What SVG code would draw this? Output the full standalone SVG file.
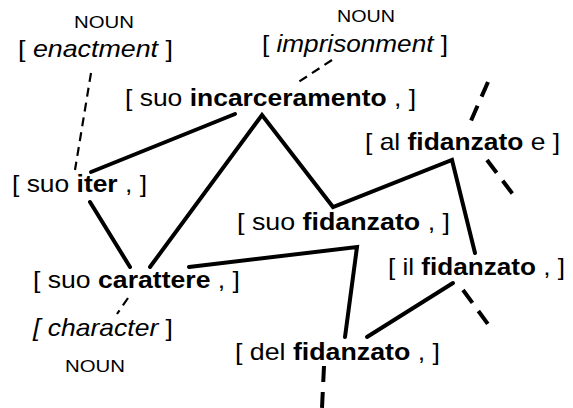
<svg xmlns="http://www.w3.org/2000/svg" width="573" height="408" viewBox="0 0 573 408">
<style>
text{font-family:"Liberation Sans",Arial,Helvetica,sans-serif;fill:#000}
.t{font-size:24px}
.g{font-size:24px}
.n{font-size:17px}
.b{font-weight:bold}
.i{font-style:italic}
.s{stroke:#000;stroke-width:4;fill:none;stroke-linecap:round;stroke-linejoin:miter}
.d{stroke:#000;stroke-width:4;fill:none;stroke-dasharray:16 10}
.dt{stroke:#000;stroke-width:2.2;fill:none;stroke-dasharray:9 6}
</style>
<rect width="573" height="408" fill="#fff"/>
<g id="connectors">
<line class="s" x1="91" y1="172" x2="235" y2="114"/>
<polyline class="s" points="150,267 262,115 333,207 452,160 475,253"/>
<line class="s" x1="90" y1="202" x2="130" y2="267"/>
<polyline class="s" points="189,267 357,247 345,337"/>
<line class="s" x1="453" y1="283" x2="367" y2="337"/>
<line class="d" x1="463" y1="290" x2="493" y2="331"/>
<line class="d" x1="488" y1="82" x2="470" y2="123"/>
<line class="d" x1="487" y1="160" x2="518" y2="201"/>
<line class="d" x1="324" y1="366" x2="322" y2="408"/>
<line class="dt" x1="91" y1="73" x2="75" y2="170"/>
<line class="dt" x1="332" y1="60" x2="297" y2="83"/>
<line class="dt" x1="128" y1="298" x2="117" y2="314" stroke-dasharray="3 5 10 20"/>
</g>
<g id="gloss-enactment">
<text class="n" x="74" y="28" textLength="60" lengthAdjust="spacingAndGlyphs">NOUN</text>
<text class="g" x="18" y="57" textLength="155" lengthAdjust="spacingAndGlyphs">[ <tspan class="i">enactment</tspan> ]</text>
</g>
<g id="gloss-imprisonment">
<text class="n" x="337" y="22" textLength="58" lengthAdjust="spacingAndGlyphs">NOUN</text>
<text class="g" x="262" y="52" textLength="186" lengthAdjust="spacingAndGlyphs">[ <tspan class="i">imprisonment</tspan> ]</text>
</g>
<g id="node-incarceramento">
<text class="t" x="125" y="106" textLength="291" lengthAdjust="spacingAndGlyphs">[ suo <tspan class="b">incarceramento</tspan> , ]</text>
</g>
<g id="node-al-fidanzato">
<text class="t" x="365" y="150" textLength="195" lengthAdjust="spacingAndGlyphs">[ al <tspan class="b">fidanzato</tspan> e ]</text>
</g>
<g id="node-iter">
<text class="t" x="12" y="192" textLength="135" lengthAdjust="spacingAndGlyphs">[ suo <tspan class="b">iter</tspan> , ]</text>
</g>
<g id="node-suo-fidanzato">
<text class="t" x="237" y="230" textLength="213" lengthAdjust="spacingAndGlyphs">[ suo <tspan class="b">fidanzato</tspan> , ]</text>
</g>
<g id="node-il-fidanzato">
<text class="t" x="388" y="275" textLength="177" lengthAdjust="spacingAndGlyphs">[ il <tspan class="b">fidanzato</tspan> , ]</text>
</g>
<g id="node-carattere">
<text class="t" x="33" y="288" textLength="207" lengthAdjust="spacingAndGlyphs">[ suo <tspan class="b">carattere</tspan> , ]</text>
</g>
<g id="gloss-character">
<text class="g i" x="33" y="336" textLength="140" lengthAdjust="spacingAndGlyphs">[ character <tspan font-style="normal">]</tspan></text>
<text class="n" x="65" y="372" textLength="60" lengthAdjust="spacingAndGlyphs">NOUN</text>
</g>
<g id="node-del-fidanzato">
<text class="t" x="235" y="360" textLength="205" lengthAdjust="spacingAndGlyphs">[ del <tspan class="b">fidanzato</tspan> , ]</text>
</g>
</svg>
